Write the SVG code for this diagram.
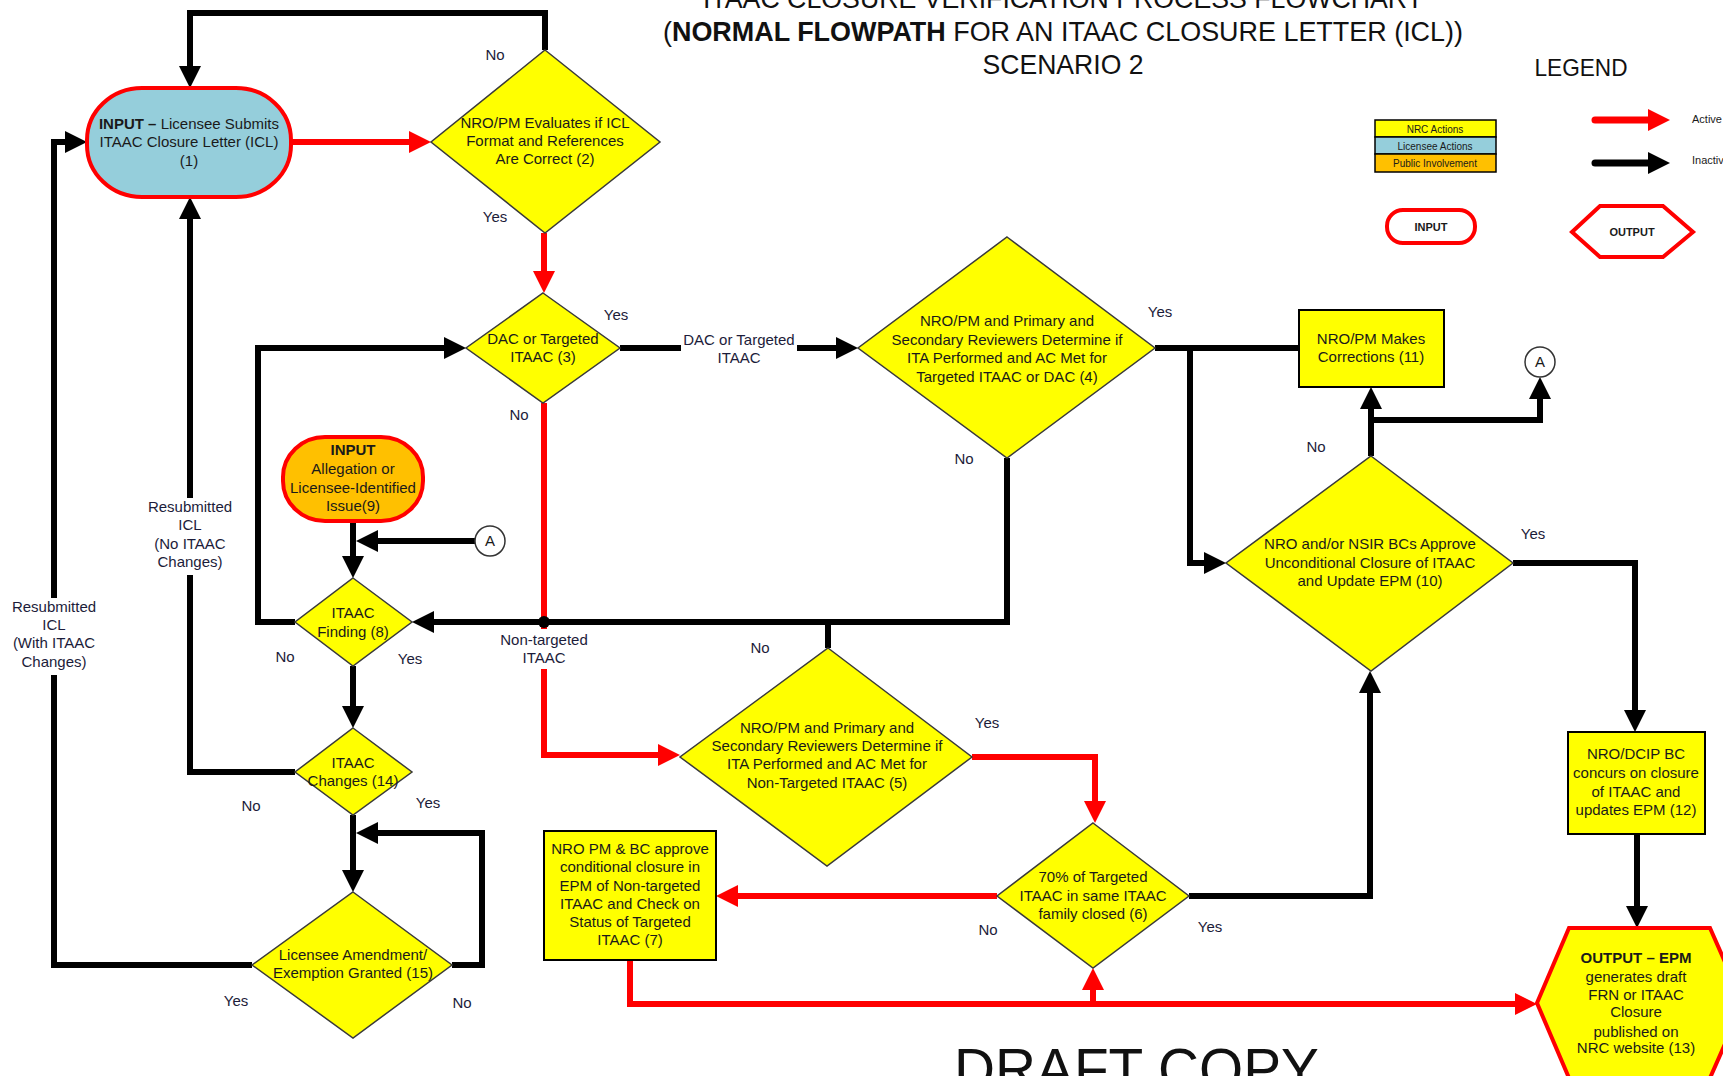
<svg xmlns="http://www.w3.org/2000/svg" width="1723" height="1076" viewBox="0 0 1723 1076">
<style>
  text { font-family: "Liberation Sans", Arial, sans-serif; fill: #1a1a1a; }
  .t { font-size: 15px; text-anchor: middle; }
  .lbl { font-size: 15px; text-anchor: middle; fill: #1c1c3a; }
  .b { font-weight: bold; }
  .dia { fill: #FFFF00; stroke: #3a3a3a; stroke-width: 1.5; }
  .box { fill: #FFFF00; stroke: #000; stroke-width: 2; }
  .blk { fill: none; stroke: #000; stroke-width: 6; stroke-linejoin: miter; }
  .red { fill: none; stroke: #FF0000; stroke-width: 6; stroke-linejoin: miter; }
  .conn { fill: #fff; stroke: #333; stroke-width: 1.5; }
  .title { font-size: 28px; text-anchor: middle; fill: #111; }
</style>
<defs>
  <marker id="ab" viewBox="0 0 22 22" refX="12" refY="11" markerWidth="22" markerHeight="22" markerUnits="userSpaceOnUse" orient="auto">
    <path d="M0,0 L22,11 L0,22 z" fill="#000"/>
  </marker>
  <marker id="ar" viewBox="0 0 22 22" refX="12" refY="11" markerWidth="22" markerHeight="22" markerUnits="userSpaceOnUse" orient="auto">
    <path d="M0,0 L22,11 L0,22 z" fill="#FF0000"/>
  </marker>
</defs>
<rect width="1723" height="1076" fill="#fff"/>

<!-- Title -->
<g id="title">
  <text class="title" x="1063" y="8" textLength="720" lengthAdjust="spacingAndGlyphs">ITAAC CLOSURE VERIFICATION PROCESS FLOWCHART</text>
  <text class="title" x="1063" y="41" textLength="800" lengthAdjust="spacingAndGlyphs">(<tspan class="b">NORMAL FLOWPATH</tspan> FOR AN ITAAC CLOSURE LETTER (ICL))</text>
  <text class="title" x="1063" y="74" textLength="161" lengthAdjust="spacingAndGlyphs">SCENARIO 2</text>
</g>

<!-- Legend -->
<g id="legend">
  <text x="1581" y="76" style="font-size:24px;text-anchor:middle;fill:#111" textLength="93" lengthAdjust="spacingAndGlyphs">LEGEND</text>
  <rect x="1375" y="120" width="121" height="17" fill="#FFFF00" stroke="#000" stroke-width="1.5"/>
  <rect x="1375" y="137" width="121" height="17" fill="#95CEDB" stroke="#000" stroke-width="1.5"/>
  <rect x="1375" y="154" width="121" height="18" fill="#FFC000" stroke="#000" stroke-width="1.5"/>
  <text x="1435" y="133" style="font-size:10px;text-anchor:middle">NRC Actions</text>
  <text x="1435" y="150" style="font-size:10px;text-anchor:middle">Licensee Actions</text>
  <text x="1435" y="167" style="font-size:10px;text-anchor:middle">Public Involvement</text>
  <path d="M1595,120 H1660" stroke="#FF0000" stroke-width="7" stroke-linecap="round" fill="none" marker-end="url(#ar)"/>
  <path d="M1595,163 H1660" stroke="#000" stroke-width="7" stroke-linecap="round" fill="none" marker-end="url(#ab)"/>
  <text x="1692" y="123" style="font-size:11px">Active</text>
  <text x="1692" y="164" style="font-size:11px">Inactive</text>
  <rect x="1387" y="210" width="88" height="33" rx="16" ry="16" fill="#fff" stroke="#FF0000" stroke-width="4"/>
  <text x="1431" y="231" class="b" style="font-size:11px;text-anchor:middle">INPUT</text>
  <polygon points="1572,232 1600,206 1663,206 1693,232 1663,257 1600,257" fill="#fff" stroke="#FF0000" stroke-width="4"/>
  <text x="1632" y="236" class="b" style="font-size:11px;text-anchor:middle">OUTPUT</text>
</g>

<!-- Connectors -->
<g id="connectors">
  <path class="blk" d="M545,50 V13 H190 V78" marker-end="url(#ab)"/>
  <path class="red" d="M291,142 H421" marker-end="url(#ar)"/>
  <path class="red" d="M544,233 V283" marker-end="url(#ar)"/>
  <path class="blk" d="M620,348 H681"/>
  <path class="blk" d="M797,348 H848" marker-end="url(#ab)"/>
  <path class="red" d="M544,403 V629"/>
  <path class="red" d="M544,669 V755 H670" marker-end="url(#ar)"/>
  <path class="blk" d="M295,622 H258 V348 H456" marker-end="url(#ab)"/>
  <path class="blk" d="M1007,458 V622 H422" marker-end="url(#ab)"/>
  <path class="blk" d="M828,648 V622"/>
  <circle cx="544" cy="622" r="6" fill="#000"/>
  <path class="blk" d="M1155,348 H1299"/>
  <path class="blk" d="M1190,348 V563 H1216" marker-end="url(#ab)"/>
  <path class="blk" d="M1371,456 V397" marker-end="url(#ab)"/>
  <path class="blk" d="M1371,420 H1540 V387" marker-end="url(#ab)"/>
  <path class="blk" d="M1513,563 H1635 V722" marker-end="url(#ab)"/>
  <path class="blk" d="M1637,834 V918" marker-end="url(#ab)"/>
  <path class="blk" d="M1189,896 H1370 V681" marker-end="url(#ab)"/>
  <path class="red" d="M972,757 H1095 V813" marker-end="url(#ar)"/>
  <path class="red" d="M997,896 H726" marker-end="url(#ar)"/>
  <path class="red" d="M630,960 V1004 H1527" marker-end="url(#ar)"/>
  <path class="red" d="M1093,1004 V978" marker-end="url(#ar)"/>
  <path class="blk" d="M353,521 V568" marker-end="url(#ab)"/>
  <path class="blk" d="M475,541 H366" marker-end="url(#ab)"/>
  <path class="blk" d="M353,666 V718" marker-end="url(#ab)"/>
  <path class="blk" d="M295,772 H190 V575"/>
  <path class="blk" d="M190,498 V207" marker-end="url(#ab)"/>
  <path class="blk" d="M353,815 V882" marker-end="url(#ab)"/>
  <path class="blk" d="M452,965 H482 V833 H366" marker-end="url(#ab)"/>
  <path class="blk" d="M252,965 H54 V675"/>
  <path class="blk" d="M54,598 V142 H77" marker-end="url(#ab)"/>

  <!-- connector labels -->
  <text class="lbl" x="495" y="60">No</text>
  <text class="lbl" x="495" y="222">Yes</text>
  <text class="lbl" x="616" y="320">Yes</text>
  <text class="lbl" x="519" y="420">No</text>
  <text class="lbl" x="739" y="345">DAC or Targeted</text>
  <text class="lbl" x="739" y="363">ITAAC</text>
  <text class="lbl" x="1160" y="317">Yes</text>
  <text class="lbl" x="964" y="464">No</text>
  <text class="lbl" x="1316" y="452">No</text>
  <text class="lbl" x="1533" y="539">Yes</text>
  <text class="lbl" x="760" y="653">No</text>
  <text class="lbl" x="987" y="728">Yes</text>
  <text class="lbl" x="988" y="935">No</text>
  <text class="lbl" x="1210" y="932">Yes</text>
  <text class="lbl" x="544" y="645">Non-targeted</text>
  <text class="lbl" x="544" y="663">ITAAC</text>
  <text class="lbl" x="285" y="662">No</text>
  <text class="lbl" x="410" y="664">Yes</text>
  <text class="lbl" x="251" y="811">No</text>
  <text class="lbl" x="428" y="808">Yes</text>
  <text class="lbl" x="236" y="1006">Yes</text>
  <text class="lbl" x="462" y="1008">No</text>
  <text class="lbl" x="190" y="512">Resubmitted</text>
  <text class="lbl" x="190" y="530">ICL</text>
  <text class="lbl" x="190" y="549">(No ITAAC</text>
  <text class="lbl" x="190" y="567">Changes)</text>
  <text class="lbl" x="54" y="612">Resubmitted</text>
  <text class="lbl" x="54" y="630">ICL</text>
  <text class="lbl" x="54" y="648">(With ITAAC</text>
  <text class="lbl" x="54" y="667">Changes)</text>
</g>

<!-- Nodes -->
<g id="n1">
  <rect x="87" y="88" width="204" height="109" rx="55" ry="52" fill="#95CEDB" stroke="#FF0000" stroke-width="4"/>
  <text class="t" x="189" y="129"><tspan class="b">INPUT –</tspan> Licensee Submits</text>
  <text class="t" x="189" y="147">ITAAC Closure Letter (ICL)</text>
  <text class="t" x="189" y="166">(1)</text>
</g>
<g id="n2">
  <polygon class="dia" points="545,50 660,142 545,233 431,142"/>
  <text class="t" x="545" y="128">NRO/PM Evaluates if ICL</text>
  <text class="t" x="545" y="146">Format and References</text>
  <text class="t" x="545" y="164">Are Correct (2)</text>
</g>
<g id="n3">
  <polygon class="dia" points="543,293 620,348 543,403 466,348"/>
  <text class="t" x="543" y="344">DAC or Targeted</text>
  <text class="t" x="543" y="362">ITAAC (3)</text>
</g>
<g id="n4">
  <polygon class="dia" points="1007,237 1155,348 1007,458 858,348"/>
  <text class="t" x="1007" y="326">NRO/PM and Primary and</text>
  <text class="t" x="1007" y="345">Secondary Reviewers Determine if</text>
  <text class="t" x="1007" y="363">ITA Performed and AC Met for</text>
  <text class="t" x="1007" y="382">Targeted ITAAC or DAC (4)</text>
</g>
<g id="n5">
  <polygon class="dia" points="828,648 972,757 827,866 680,757"/>
  <text class="t" x="827" y="733">NRO/PM and Primary and</text>
  <text class="t" x="827" y="751">Secondary Reviewers Determine if</text>
  <text class="t" x="827" y="769">ITA Performed and AC Met for</text>
  <text class="t" x="827" y="788">Non-Targeted ITAAC (5)</text>
</g>
<g id="n6">
  <polygon class="dia" points="1093,823 1189,896 1093,968 997,896"/>
  <text class="t" x="1093" y="882">70% of Targeted</text>
  <text class="t" x="1093" y="901">ITAAC in same ITAAC</text>
  <text class="t" x="1093" y="919">family closed (6)</text>
</g>
<g id="n7">
  <rect class="box" x="544" y="831" width="172" height="129"/>
  <text class="t" x="630" y="854">NRO PM &amp; BC approve</text>
  <text class="t" x="630" y="872">conditional closure in</text>
  <text class="t" x="630" y="891">EPM of Non-targeted</text>
  <text class="t" x="630" y="909">ITAAC and Check on</text>
  <text class="t" x="630" y="927">Status of Targeted</text>
  <text class="t" x="630" y="945">ITAAC (7)</text>
</g>
<g id="n8">
  <polygon class="dia" points="353,578 412,622 353,666 295,622"/>
  <text class="t" x="353" y="618">ITAAC</text>
  <text class="t" x="353" y="637">Finding (8)</text>
</g>
<g id="n9">
  <rect x="283" y="437" width="140" height="84" rx="42" ry="40" fill="#FFC000" stroke="#FF0000" stroke-width="4"/>
  <text class="t b" x="353" y="455">INPUT</text>
  <text class="t" x="353" y="474">Allegation or</text>
  <text class="t" x="353" y="493">Licensee-Identified</text>
  <text class="t" x="353" y="511">Issue(9)</text>
</g>
<g id="n10">
  <polygon class="dia" points="1371,456 1513,563 1371,671 1226,563"/>
  <text class="t" x="1370" y="549">NRO and/or NSIR BCs Approve</text>
  <text class="t" x="1370" y="568">Unconditional Closure of ITAAC</text>
  <text class="t" x="1370" y="586">and Update EPM (10)</text>
</g>
<g id="n11">
  <rect class="box" x="1299" y="310" width="145" height="77"/>
  <text class="t" x="1371" y="344">NRO/PM Makes</text>
  <text class="t" x="1371" y="362">Corrections (11)</text>
</g>
<g id="n12">
  <rect class="box" x="1568" y="732" width="137" height="102"/>
  <text class="t" x="1636" y="759">NRO/DCIP BC</text>
  <text class="t" x="1636" y="778">concurs on closure</text>
  <text class="t" x="1636" y="797">of ITAAC and</text>
  <text class="t" x="1636" y="815">updates EPM (12)</text>
</g>
<g id="n13">
  <polygon points="1569,928 1710,928 1743,1003 1710,1078 1569,1078 1537,1003" fill="#FFFF00" stroke="#FF0000" stroke-width="4"/>
  <text class="t b" x="1636" y="963">OUTPUT – EPM</text>
  <text class="t" x="1636" y="982">generates draft</text>
  <text class="t" x="1636" y="1000">FRN or ITAAC</text>
  <text class="t" x="1636" y="1017">Closure</text>
  <text class="t" x="1636" y="1037">published on</text>
  <text class="t" x="1636" y="1053">NRC website (13)</text>
</g>
<g id="n14">
  <polygon class="dia" points="353,728 412,772 353,815 295,772"/>
  <text class="t" x="353" y="768">ITAAC</text>
  <text class="t" x="353" y="786">Changes (14)</text>
</g>
<g id="n15">
  <polygon class="dia" points="353,892 452,965 353,1038 252,965"/>
  <text class="t" x="353" y="960">Licensee Amendment/</text>
  <text class="t" x="353" y="978">Exemption Granted (15)</text>
</g>
<g id="connA1">
  <circle class="conn" cx="490" cy="541" r="15"/>
  <text class="t" x="490" y="546">A</text>
</g>
<g id="connA2">
  <circle class="conn" cx="1540" cy="362" r="15"/>
  <text class="t" x="1540" y="367">A</text>
</g>
<g id="draft">
  <text x="954" y="1089" style="font-size:57px;fill:#111" textLength="365" lengthAdjust="spacingAndGlyphs">DRAFT COPY</text>
</g>
</svg>
